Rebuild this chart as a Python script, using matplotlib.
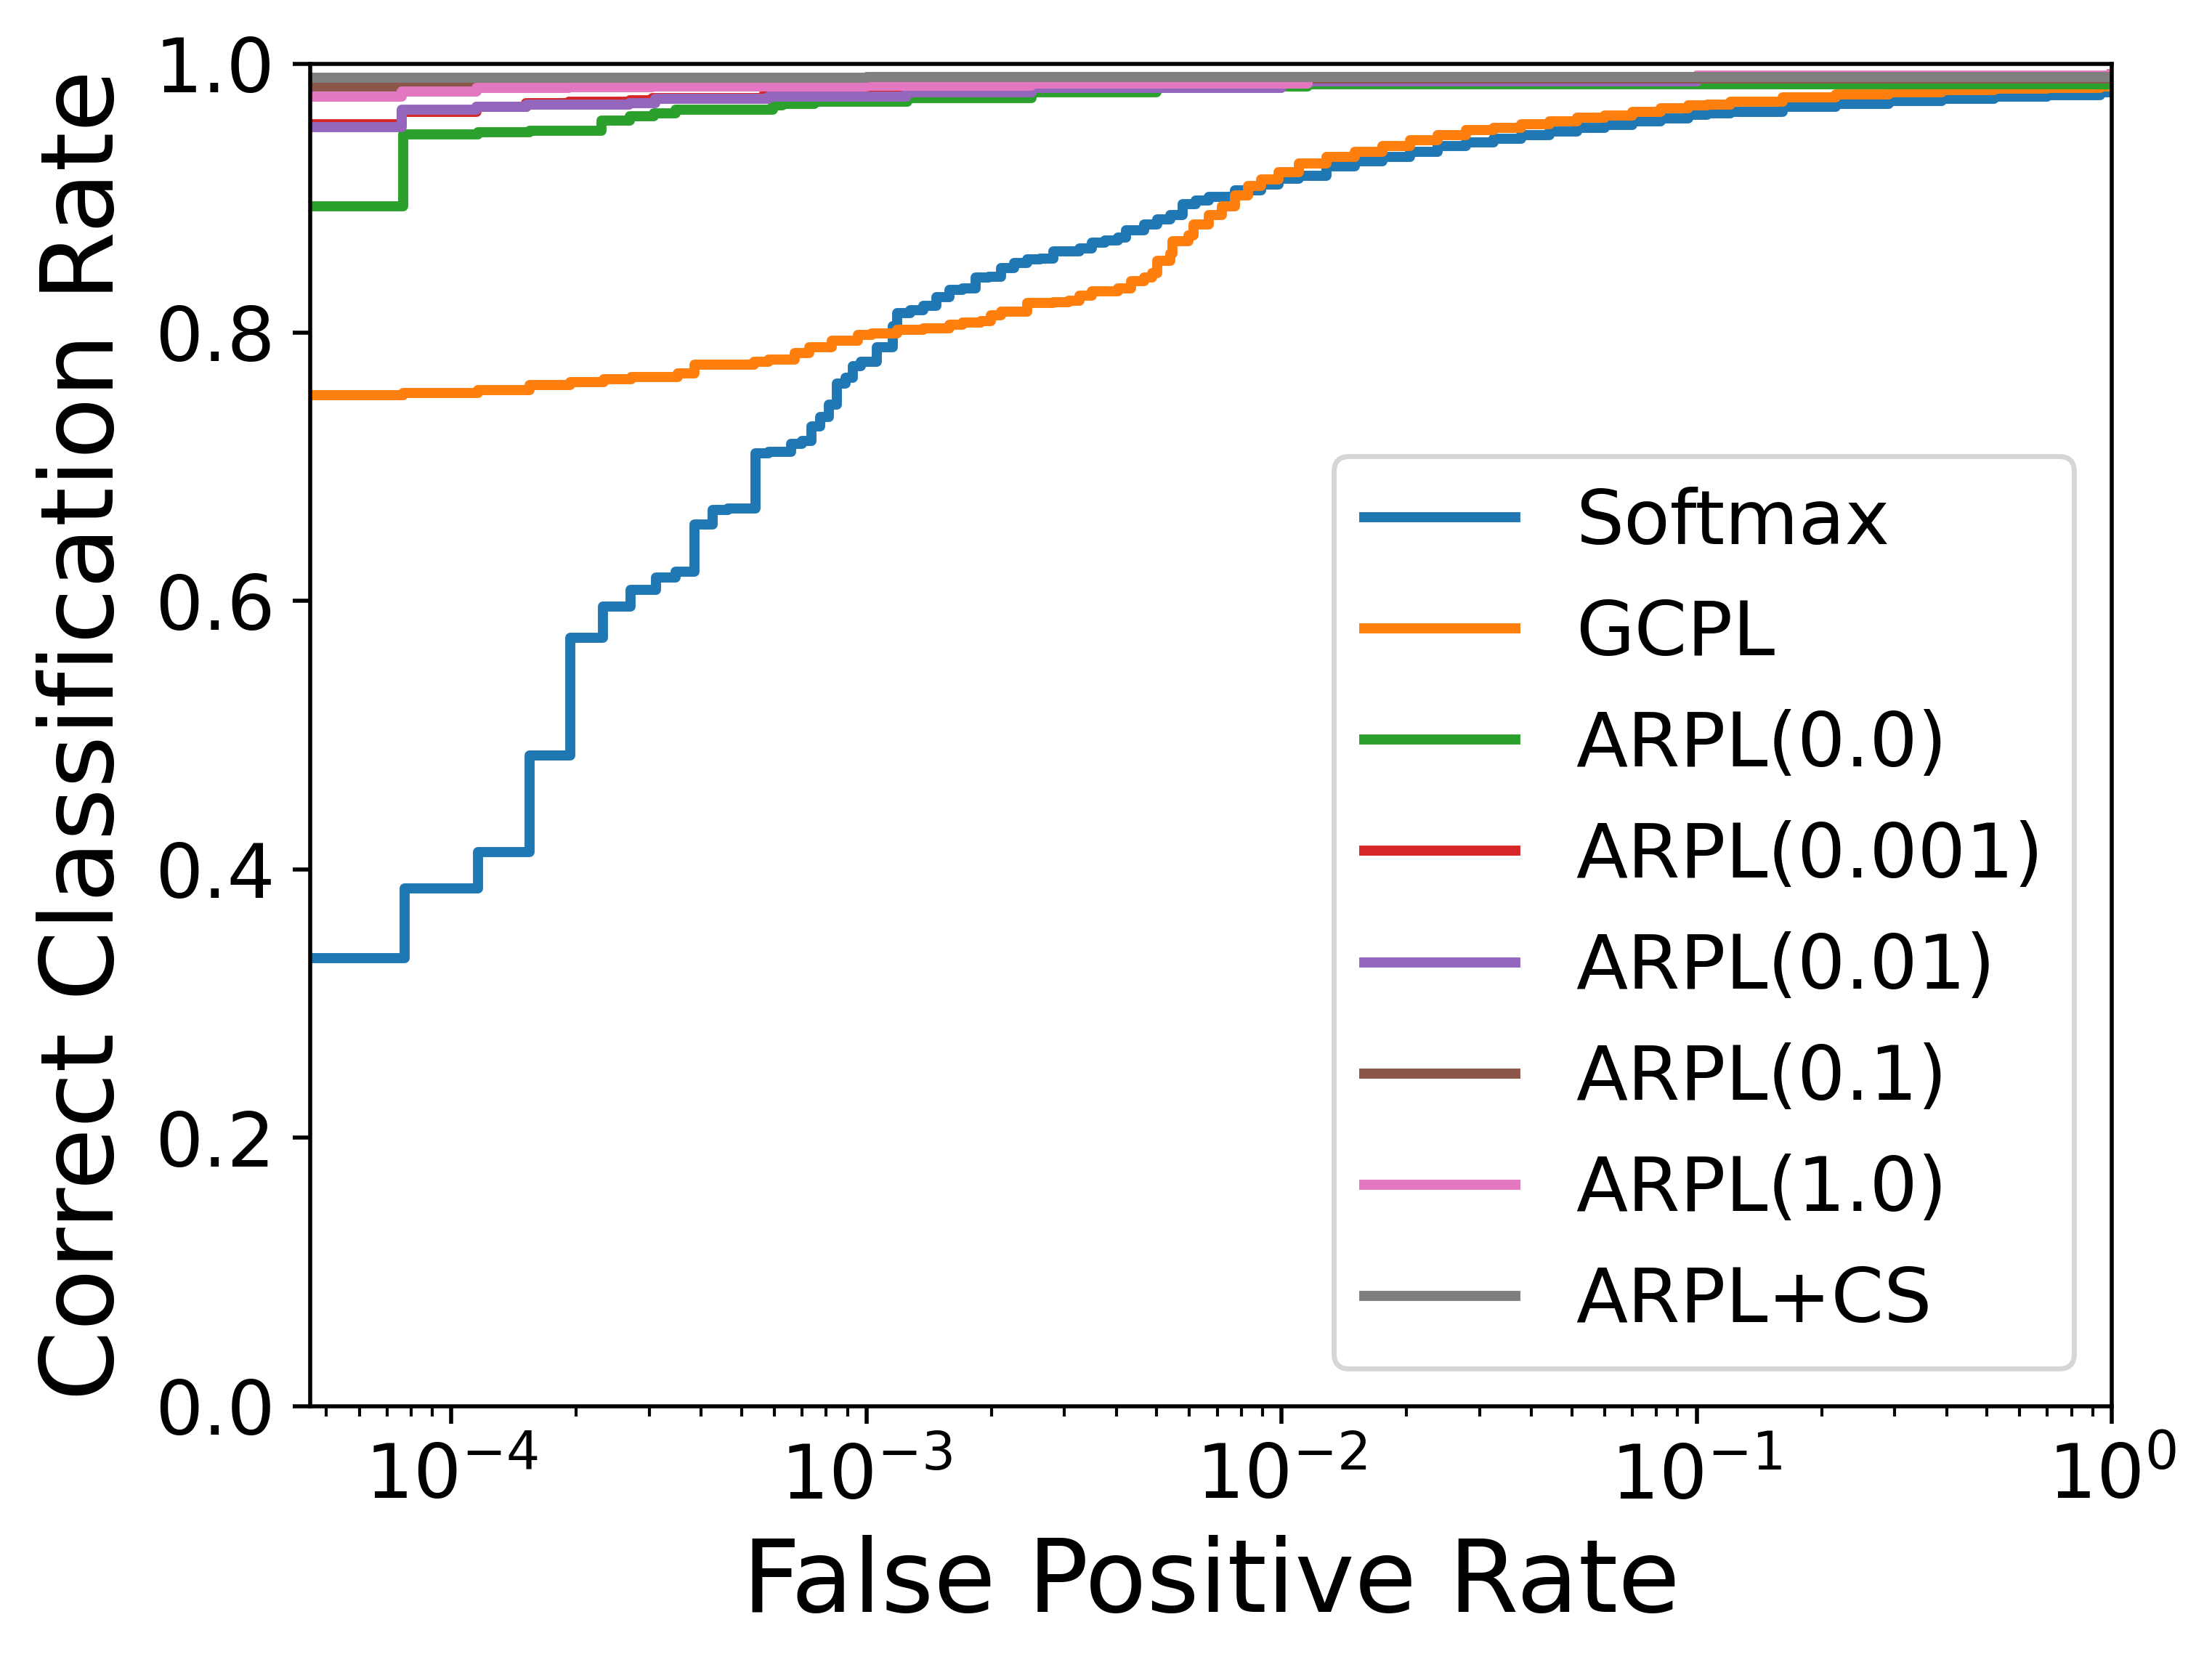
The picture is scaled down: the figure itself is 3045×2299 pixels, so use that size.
import matplotlib
matplotlib.use('Agg')
import matplotlib.pyplot as plt

# curvas ROC (FPR vs tasa de clasificacion correcta)
softmax_fpr = [3.9e-5, 7.73e-5, 1.161e-4, 1.546e-4, 1.934e-4, 2.318e-4, 2.705e-4,
               3.105e-4, 3.475e-4, 3.859e-4, 4.268e-4, 4.634e-4, 5.41e-4, 5.81e-4,
               6.57e-4, 6.99e-4, 7.36e-4, 7.75e-4, 8.12e-4, 8.50e-4, 8.89e-4,
               9.27e-4, 9.71e-4, 1.06e-3, 1.155e-3, 1.188e-3, 1.277e-3, 1.372e-3,
               1.475e-3, 1.585e-3, 1.703e-3, 1.830e-3, 1.966e-3, 2.113e-3, 2.271e-3,
               2.441e-3, 2.622e-3, 2.818e-3, 3.254e-3, 3.497e-3, 3.757e-3, 4.037e-3,
               4.217e-3, 4.662e-3, 5.012e-3, 5.385e-3, 5.788e-3, 6.218e-3, 6.683e-3,
               7.72e-3, 8.91e-3, 9.83e-3, 1.102e-2, 1.285e-2, 1.499e-2, 1.749e-2,
               2.042e-2, 2.381e-2, 2.778e-2, 3.243e-2, 3.782e-2, 4.412e-2, 5.149e-2,
               6.007e-2, 7.01e-2, 8.18e-2, 9.54e-2, 0.1059, 0.1204, 0.1614, 0.2164,
               0.2901, 0.3889, 0.5213, 0.6989, 0.9367, 1.0]
softmax_ccr = [0.334, 0.386, 0.413, 0.485, 0.5725, 0.596, 0.608,
               0.6175, 0.622, 0.657, 0.668, 0.669, 0.710, 0.711,
               0.717, 0.719, 0.730, 0.737, 0.746, 0.762, 0.766,
               0.775, 0.778, 0.789, 0.8047, 0.8146, 0.8164, 0.8200,
               0.8263, 0.8317, 0.8326, 0.8408, 0.8416, 0.8480, 0.8516,
               0.8543, 0.8552, 0.8606, 0.8627, 0.8669, 0.8687, 0.8705,
               0.8760, 0.8805, 0.8841, 0.8877, 0.8958, 0.8985, 0.9012,
               0.9057, 0.9102, 0.9147, 0.9166, 0.9238, 0.9274, 0.9310,
               0.9346, 0.9391, 0.9418, 0.9445, 0.9472, 0.9499, 0.9526,
               0.9545, 0.9572, 0.9595, 0.9620, 0.9631, 0.9645, 0.968, 0.9705,
               0.9725, 0.9738, 0.9755, 0.977, 0.9789, 0.980]

gcpl_fpr = [3.9e-5, 7.67e-5, 1.157e-4, 1.543e-4, 1.934e-4, 2.327e-4, 2.716e-4,
            3.51e-4, 3.85e-4, 5.35e-4, 5.81e-4, 6.71e-4, 7.29e-4, 8.24e-4,
            9.52e-4, 1.029e-3, 1.188e-3, 1.372e-3, 1.585e-3, 1.703e-3, 1.884e-3,
            1.995e-3, 2.113e-3, 2.441e-3, 2.818e-3, 3.072e-3, 3.254e-3, 3.497e-3,
            4.037e-3, 4.338e-3, 4.662e-3, 4.868e-3, 5.012e-3, 5.385e-3, 5.464e-3,
            5.957e-3, 6.13e-3, 6.683e-3, 7.18e-3, 7.72e-3, 8.29e-3, 8.91e-3,
            9.83e-3, 1.102e-2, 1.285e-2, 1.499e-2, 1.749e-2, 2.042e-2, 2.381e-2,
            2.778e-2, 3.243e-2, 3.782e-2, 4.412e-2, 5.149e-2, 6.007e-2, 7.01e-2,
            8.18e-2, 9.54e-2, 0.1059, 0.1204, 0.1614, 0.2164, 0.2901, 0.3889,
            0.5213, 0.6989, 0.9367, 1.0]
gcpl_ccr = [0.753, 0.755, 0.757, 0.761, 0.763, 0.765, 0.767,
            0.7695, 0.776, 0.778, 0.780, 0.7845, 0.789, 0.7938,
            0.798, 0.7992, 0.8020, 0.8032, 0.8056, 0.8074, 0.8083,
            0.8128, 0.8155, 0.8218, 0.8227, 0.8236, 0.8272, 0.8308,
            0.8326, 0.8381, 0.8408, 0.8443, 0.8534, 0.8588, 0.8678,
            0.8723, 0.8805, 0.8877, 0.8940, 0.9021, 0.9093, 0.9139,
            0.9193, 0.9259, 0.9310, 0.9346, 0.9391, 0.9431, 0.9472,
            0.9508, 0.9526, 0.9553, 0.9572, 0.9599, 0.9617, 0.9644,
            0.9671, 0.9689, 0.9698, 0.972, 0.975, 0.9775, 0.979, 0.9803,
            0.9815, 0.9824, 0.9833, 0.984]

arpl0_fpr = [3.9e-5, 7.67e-5, 1.157e-4, 1.543e-4, 2.30e-4, 2.69e-4, 3.07e-4,
             3.47e-4, 5.95e-4, 6.27e-4, 7.5e-4, 1.254e-3, 2.5e-3, 5.0e-3,
             1.155e-2, 1.0]
arpl0_ccr = [0.894, 0.9474, 0.949, 0.9503, 0.958, 0.961, 0.963,
             0.9661, 0.9689, 0.970, 0.9716, 0.9743, 0.9789, 0.983,
             0.985, 0.986]

arpl001_fpr = [3.9e-5, 7.6e-5, 1.15e-4, 1.51e-4, 1.92e-4, 2.69e-4, 3.05e-4,
               5.65e-4, 1.25e-3, 2.5e-3, 1.0e-2, 0.1, 1.0]
arpl001_ccr = [0.955, 0.9644, 0.9683, 0.971, 0.972, 0.973, 0.9746,
               0.9765, 0.980, 0.983, 0.988, 0.990, 0.991]

arpl01_fpr = [3.9e-5, 7.6e-5, 1.15e-4, 1.52e-4, 2.68e-4, 3.1e-4, 5.8e-4,
              1.25e-3, 2.5e-3, 1.0e-2, 0.1, 1.0]
arpl01_ccr = [0.953, 0.966, 0.968, 0.9695, 0.971, 0.974, 0.9758,
              0.979, 0.982, 0.987, 0.989, 0.991]

arpl1_fpr = [3.9e-5, 1.15e-4, 1.9e-4, 1.0]
arpl1_ccr = [0.9831, 0.987, 0.989, 0.990]

arpl10_fpr = [3.9e-5, 7.6e-5, 1.15e-4, 1.92e-4, 3.05e-4, 1.0e-3, 2.5e-3,
              1.155e-2, 0.1, 1.0]
arpl10_ccr = [0.9755, 0.9795, 0.9821, 0.9826, 0.983, 0.984, 0.9855,
              0.990, 0.9915, 0.9925]

arplcs_fpr = [3.9e-5, 1.0e-3, 1.0]
arplcs_ccr = [0.9897, 0.9900, 0.9903]

series = [
    ('Softmax', softmax_fpr, softmax_ccr),
    ('GCPL', gcpl_fpr, gcpl_ccr),
    ('ARPL(0.0)', arpl0_fpr, arpl0_ccr),
    ('ARPL(0.001)', arpl001_fpr, arpl001_ccr),
    ('ARPL(0.01)', arpl01_fpr, arpl01_ccr),
    ('ARPL(0.1)', arpl1_fpr, arpl1_ccr),
    ('ARPL(1.0)', arpl10_fpr, arpl10_ccr),
    ('ARPL+CS', arplcs_fpr, arplcs_ccr),
]

W, H, DPI = 3045, 2299, 500
fig = plt.figure(figsize=(W / DPI, H / DPI), dpi=DPI)
# ejes colocados a mano (equivale a 6.4x4.8 recortado con bbox tight)
ax = fig.add_axes([427 / W, 363 / H, 2480 / W, 1848 / H])

for i, (nombre, fpr, ccr) in enumerate(series):
    ax.plot(fpr, ccr, drawstyle='steps-post', lw=2, color='C%d' % i, label=nombre)

ax.set_xscale('log')
ax.set_xlim(4.57e-5, 1.0)
ax.set_ylim(0.0, 1.0)
ax.tick_params(labelsize=15)
ax.set_xlabel('False Positive Rate', fontsize=20)
ax.set_ylabel('Correct Classification Rate', fontsize=20)
ax.legend(loc='lower right', fontsize=15)

fig.savefig('out.png', dpi=DPI)
